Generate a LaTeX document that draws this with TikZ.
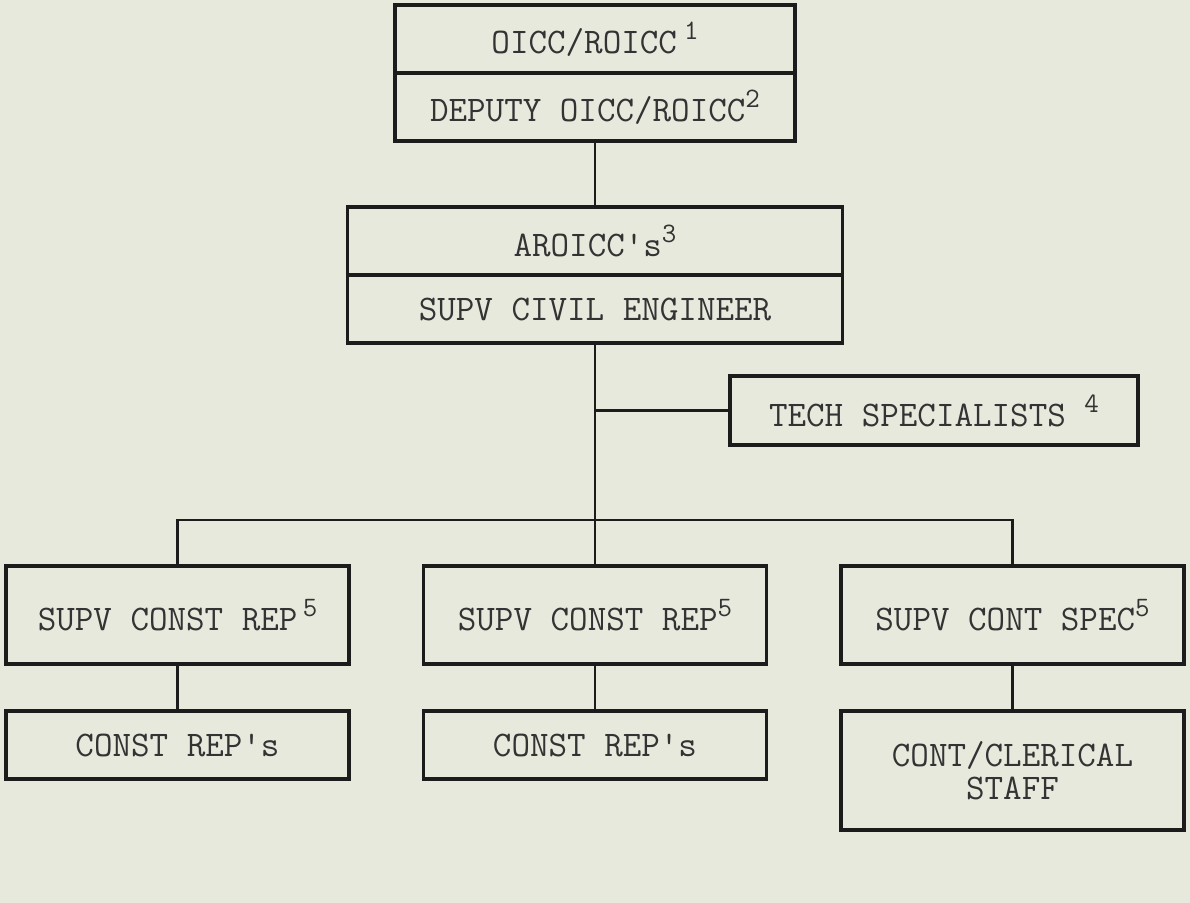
\documentclass[tikz,border=0pt]{standalone}
\usepackage{fontspec}
\usepackage{tikz}
\usetikzlibrary{positioning}

\definecolor{paper}{RGB}{232,233,221}
\definecolor{ink}{RGB}{28,28,28}
% raised footnote digit, typed half a line up
\newcommand{\fnote}[1]{\raisebox{8pt}{\fontsize{16}{16}\selectfont#1}}

\begin{document}
\begin{tikzpicture}[node distance=1.36cm, on grid,
    box/.style={draw=ink, line width=1.9pt, text=ink!90, minimum height=1.36cm, inner sep=0pt,
        font=\ttfamily\fontsize{20.5}{19}\selectfont},
    rowbox/.style={box, minimum width=6.86cm, minimum height=1.96cm},
    link/.style={draw=ink, line width=1.3pt}]
        \fill[paper] (0,0) rectangle (23.8,-18.06);
        \useasboundingbox (0,0) rectangle (23.8,-18.06);
        % head office, two stacked boxes
        \node[box, minimum width=8cm] (oicc) at (11.9,-0.78) {OICC/ROICC\hspace{4pt}\fnote{1}};
        \node[box, minimum width=8cm] (deputy) [below=of oicc] {DEPUTY OICC/ROICC\fnote{2}};
        \node[box, minimum width=9.9cm] (aroicc) [below=2.68cm of deputy] {AROICC's\fnote{3}};
        \node[box, minimum width=9.9cm] (sce) [below=of aroicc] {SUPV CIVIL ENGINEER};
        \node[box, minimum width=8.16cm, minimum height=1.38cm] (tech) [below right=2.03cm and 6.78cm of sce] {TECH SPECIALISTS \fnote{4}};
        % field level
        \node[rowbox] (scrB) [below=6.12cm of sce] {SUPV CONST REP\fnote{5}};
        \node[rowbox] (scrA) [left=8.35cm of scrB] {SUPV CONST REP\hspace{3pt}\fnote{5}};
        \node[rowbox] (scs) [right=8.35cm of scrB] {SUPV CONT SPEC\fnote{5}};
        \node[box, minimum width=6.86cm] (crA) [below=2.6cm of scrA] {CONST REP's};
        \node[box, minimum width=6.86cm] (crB) [below=2.6cm of scrB] {CONST REP's};
        \node[box, minimum width=6.86cm, minimum height=2.38cm, align=center] (staff) [below=3.11cm of scs] {CONT/CLERICAL\\STAFF};
        \coordinate[above=0.88cm of scrB.north] (hub);
        \coordinate (tj) at (sce.south |- tech.west);
        \path[link]
        (deputy) -- (aroicc)
        (sce) -- (scrB)
        (tj) -- (tech)
        (scrA.north) |- (hub) -| (scs.north)
        (scrA) -- (crA)
        (scrB) -- (crB)
        (scs) -- (staff)
        ;
    \end{tikzpicture}
\end{document}
